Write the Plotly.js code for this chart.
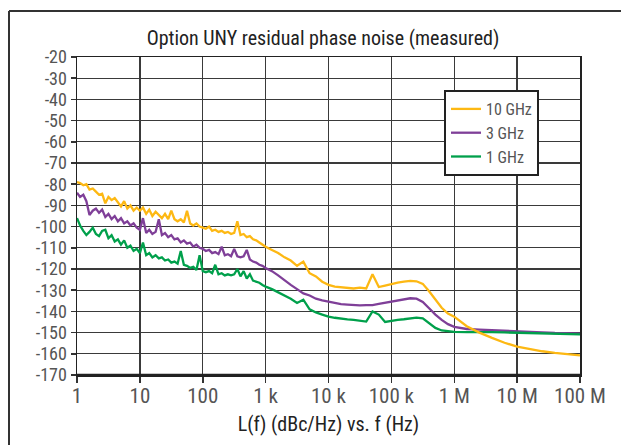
<!DOCTYPE html>
<html>
<head>
<meta charset="utf-8">
<script src="https://cdn.plot.ly/plotly-3.0.1.min.js"></script>
<style>
  html, body { margin: 0; padding: 0; background: #ffffff; }
  #chart { width: 621px; height: 445px; }
</style>
</head>
<body>
<div id="chart"></div>
<script>
// Offset frequency (Hz), shared by all three series
const freqHz = [1,1.12,1.26,1.41,1.58,1.78,2,2.24,2.51,2.82,3.16,3.55,3.98,4.47,5.01,5.62,6.31,7.08,7.94,8.91,
  10,11.2,12.6,14.1,15.8,17.8,20,22.4,25.1,28.2,31.6,35.5,39.8,44.7,50.1,56.2,63.1,70.8,79.4,89.1,
  100,112,126,141,158,178,200,224,251,282,316,355,398,447,501,562,631,708,794,891,
  1e3,1.26e3,1.58e3,2e3,2.51e3,3.16e3,3.98e3,5.01e3,6.31e3,7.94e3,
  1e4,1.26e4,1.58e4,2e4,2.51e4,3.16e4,3.98e4,5.01e4,6.31e4,7.94e4,
  1e5,1.26e5,1.58e5,2e5,2.51e5,3.16e5,3.98e5,5.01e5,6.31e5,7.94e5,
  1e6,1.58e6,2.51e6,3.98e6,6.31e6,1e7,1.58e7,2.51e7,3.98e7,6.31e7,1e8];

// L(f) in dBc/Hz
const noise10GHz = [-79,-79.5,-80.5,-80,-82.5,-82,-83.5,-85,-84.5,-89,-86,-87.5,-86.5,-88.5,-90.5,-88,-91.5,-90,-92.5,-91,
  -92.5,-91,-94,-92,-95,-93,-94.5,-96,-94,-96.5,-92.5,-96.5,-97.5,-96.5,-98,-92.5,-98.5,-99.5,-98.5,-100,
  -100.5,-101,-100,-102,-101.5,-102.5,-102,-103,-102.5,-103.5,-103,-97.5,-104,-103.5,-105,-104.5,-106,-106.5,-107.5,-108.5,
  -109.5,-111,-112.5,-114.5,-116,-118.5,-116.5,-122,-123.5,-126,
  -127.5,-128.3,-128.7,-128.9,-129.2,-128.8,-129.2,-122.5,-128.5,-127.8,
  -127,-126.4,-126,-125.6,-125.8,-127,-130.5,-134.5,-138.3,-141,
  -142.5,-147,-150,-152.5,-154.8,-156.6,-157.8,-158.8,-159.6,-160.3,-160.7];

const noise3GHz = [-84,-86,-85,-88,-94.5,-92.5,-91.5,-93.5,-92,-95.5,-94,-96.5,-95,-97.5,-96,-98.5,-97.5,-99.5,-98.5,-100.5,
  -101.5,-96,-103,-101.5,-103.5,-102.5,-96.5,-104,-103,-105,-104,-106,-105.5,-107.5,-106.5,-108,-107.5,-109.5,-108.5,-110,
  -110.5,-111.5,-111,-112.5,-112,-113,-109.5,-113.5,-113,-114,-110.5,-114,-114.5,-114,-111,-115.5,-116.5,-117,-118,-118.5,
  -119.5,-121,-123,-125.5,-127.5,-129.5,-131.5,-132.5,-134,-134.8,
  -135.4,-136,-136.6,-136.8,-137,-137.2,-137,-137,-136.5,-136,
  -135.4,-134.8,-134.2,-133.8,-134,-135.5,-138.5,-141.5,-144,-146,
  -147.3,-148.3,-148.6,-148.8,-149,-149.3,-149.6,-149.9,-150.2,-150.4,-150.5];

const noise1GHz = [-96,-99.5,-102,-104,-102.5,-100.5,-103.5,-104.5,-102,-101.5,-105.5,-104,-107,-106,-108.5,-106.5,-110,-109,-111.5,-110.5,
  -112.5,-107.5,-113.5,-112.5,-114.5,-113.5,-115,-114.5,-116,-115.5,-117,-116.5,-117.5,-111.5,-118,-118.5,-119.5,-119,-120.5,-113.5,
  -121,-121.5,-121,-122,-118,-122.5,-122,-123,-122.5,-123,-122.5,-120,-123.5,-121,-124.5,-122.5,-125.5,-126,-126.5,-127.5,
  -128.3,-129.5,-131,-132.5,-134,-136,-134.5,-139,-140.5,-141.5,
  -142.5,-143,-143.5,-143.8,-144,-144.3,-144.8,-140,-141.5,-145,
  -144.4,-144,-143.7,-143.3,-142.9,-143.3,-145.5,-147.8,-149,-149.5,
  -149.7,-149.8,-149.7,-149.8,-149.9,-150,-150.2,-150.4,-150.6,-150.7,-150.8];

const seriesNames = ['10 GHz', '3 GHz', '1 GHz'];
const seriesColors = ['#FDB813', '#7F3F98', '#00A04B'];

const xTickVals = [1, 10, 100, 1e3, 1e4, 1e5, 1e6, 1e7, 1e8];
const xTickText = ['1', '10', '100', '1 k', '10 k', '100 k', '1 M', '10 M', '100 M'];
const yTickVals = [-20,-30,-40,-50,-60,-70,-80,-90,-100,-110,-120,-130,-140,-150,-160,-170];
const yTickText = ['-20','-30','-40','-50','-60','-70','-80','-90','-100','-110','-120','-130','-140','-150','-160','-170'];

const FONT = '"Liberation Sans Narrow", "Roboto Condensed", "DejaVu Sans Condensed", Roboto, sans-serif';

function mk(y, i, rank) {
  return {
    x: freqHz, y: y, type: 'scatter', mode: 'lines', name: seriesNames[i],
    line: { color: seriesColors[i], width: 2.3 }, legendrank: rank
  };
}

const data = [mk(noise3GHz, 1, 2), mk(noise1GHz, 2, 3), mk(noise10GHz, 0, 1)];

const L = 77, R = 41, T = 57, B = 70, W = 621, H = 445;
const pw = W - L - R, ph = H - T - B;
function px2x(p) { return (p - L) / pw; }
function px2y(p) { return (H - B - p) / ph; }

const layout = {
  width: W, height: H,
  margin: { l: L, r: R, t: T, b: B, pad: 0 },
  paper_bgcolor: '#ffffff', plot_bgcolor: '#ffffff',
  font: { family: FONT, color: '#555555', size: 18 },
  title: {
    text: 'Option UNY residual phase noise (measured)',
    font: { family: FONT, size: 20, color: '#222222' },
    xref: 'container', x: 323 / W, xanchor: 'center',
    yref: 'container', y: 1 - 38 / H, yanchor: 'middle'
  },
  xaxis: {
    type: 'log', range: [0, 8],
    tickmode: 'array', tickvals: xTickVals, ticktext: xTickText,
    ticks: 'outside', ticklen: 6, tickwidth: 1.5, tickcolor: '#333333',
    ticklabelstandoff: -5,
    showgrid: true, gridcolor: '#3a3a3a', gridwidth: 1.3,
    showline: true, mirror: true, linecolor: '#222222', linewidth: 1.5,
    zeroline: false,
    tickfont: { family: FONT, size: 21, color: '#555555' },
    title: { text: 'L(f) (dBc/Hz) vs. f (Hz)', font: { family: FONT, size: 20, color: '#222222' }, standoff: 10 }
  },
  yaxis: {
    range: [-170, -20],
    tickmode: 'array', tickvals: yTickVals, ticktext: yTickText,
    ticks: 'outside', ticklen: 5, tickwidth: 1.5, tickcolor: '#333333',
    showgrid: true, gridcolor: '#3a3a3a', gridwidth: 1.3,
    showline: true, mirror: true, linecolor: '#222222', linewidth: 1.5,
    zeroline: false,
    tickfont: { family: FONT, size: 18, color: '#555555' }
  },
  legend: {
    x: px2x(444), y: px2y(90), xanchor: 'left', yanchor: 'top',
    bgcolor: '#ffffff', bordercolor: '#222222', borderwidth: 2,
    font: { family: FONT, size: 16, color: '#555555' },
    itemwidth: 30, tracegroupgap: 0
  },
  showlegend: true,
  shapes: [
    { type: 'line', xref: 'paper', yref: 'paper', x0: 0, x1: 1, y0: 0, y1: 0,
      line: { color: '#222222', width: 2.6 }, layer: 'above' },
    { type: 'line', xref: 'paper', yref: 'paper', x0: px2x(9), x1: px2x(9), y0: px2y(11), y1: px2y(460),
      line: { color: '#333333', width: 2 } },
    { type: 'line', xref: 'paper', yref: 'paper', x0: px2x(9), x1: px2x(640), y0: px2y(11), y1: px2y(11),
      line: { color: '#333333', width: 2 } }
  ]
};

Plotly.newPlot('chart', data, layout, { staticPlot: true, displayModeBar: false });
</script>
</body>
</html>
